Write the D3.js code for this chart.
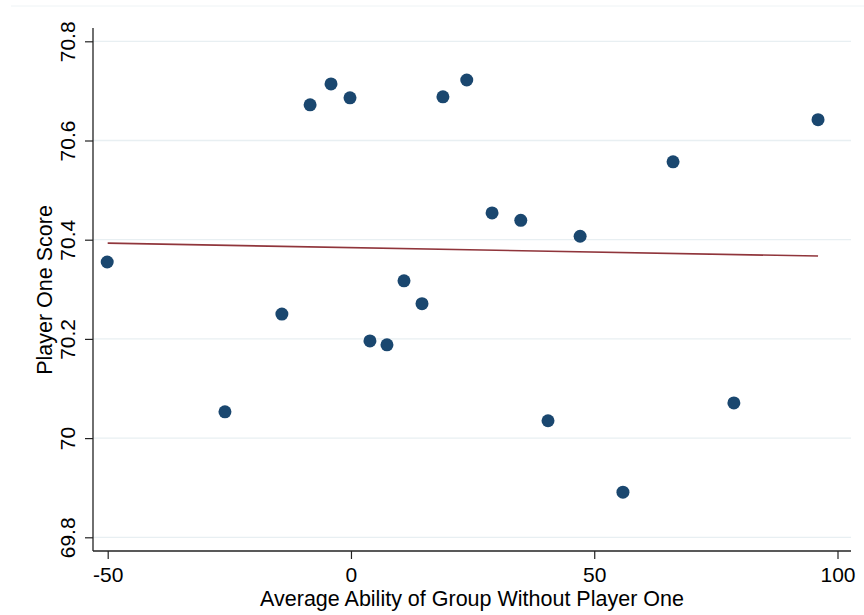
<!DOCTYPE html>
<html>
<head>
<meta charset="utf-8">
<script src="https://cdn.jsdelivr.net/npm/d3@7"></script>
<style>
  body { margin: 0; background: #fff; }
  svg { display: block; font-family: "Liberation Sans", Arial, Helvetica, sans-serif; }
</style>
</head>
<body>
<svg id="chart" width="864" height="615"></svg>
<script>
// values
var ability = [-50.1, -25.9, -14.2, -8.4, -4.1, -0.2, 3.9, 7.4, 10.9, 14.6,
               18.9, 23.8, 29.0, 34.9, 40.5, 47.1, 55.9, 66.2, 78.7, 96.0];
var score = [70.355, 70.053, 70.250, 70.672, 70.714, 70.686, 70.196, 70.188, 70.317, 70.271,
             70.688, 70.722, 70.454, 70.439, 70.035, 70.407, 69.891, 70.557, 70.071, 70.642];
var fitX = [-50, 96];
var fitY = [70.393, 70.367];
var xTicks = [-50, 0, 50, 100];
var yTicks = [69.8, 70, 70.2, 70.4, 70.6, 70.8];

var svg = d3.select("#chart");

var x = d3.scaleLinear().domain([-50, 100]).range([107.7, 837.5]);
var y = d3.scaleLinear().domain([69.8, 70.8]).range([537.3, 41.3]);

var plotLeft = 93, plotRight = 851, plotBottom = 551, plotTop = 28;

// plain number labels with an ASCII hyphen for negatives
var plain = function(d) { return String(+d.toFixed(1)); };

// faint frame line at the top
svg.append("line")
  .attr("x1", 11).attr("x2", 864).attr("y1", 6).attr("y2", 6)
  .style("stroke", "#eef3f5").style("stroke-width", 1);

// gridlines
svg.append("g").selectAll("line").data(yTicks).enter().append("line")
  .attr("x1", plotLeft).attr("x2", plotRight)
  .attr("y1", function(d) { return y(d); })
  .attr("y2", function(d) { return y(d); })
  .style("stroke", "#e8eff2").style("stroke-width", 1.3);

// y axis
var yAxis = d3.axisLeft(y).tickValues(yTicks).tickSize(8).tickFormat(plain);
var gy = svg.append("g").attr("transform", "translate(" + plotLeft + ",0)").call(yAxis);
gy.select(".domain").remove();
gy.selectAll(".tick line").style("stroke", "#222").style("stroke-width", 1.2);
gy.selectAll(".tick text")
  .attr("x", null).attr("dy", null)
  .attr("transform", "translate(-18,0) rotate(-90)")
  .attr("text-anchor", "middle")
  .style("font-size", "21px").style("fill", "#000");
svg.append("line")
  .attr("x1", plotLeft).attr("x2", plotLeft).attr("y1", plotTop).attr("y2", plotBottom)
  .style("stroke", "#222").style("stroke-width", 1.3);

// x axis
var xAxis = d3.axisBottom(x).tickValues(xTicks).tickSize(8).tickFormat(plain);
var gx = svg.append("g").attr("transform", "translate(0," + plotBottom + ")").call(xAxis);
gx.select(".domain").remove();
gx.selectAll(".tick line").style("stroke", "#222").style("stroke-width", 1.2);
gx.selectAll(".tick text")
  .attr("y", 31).attr("dy", null)
  .style("font-size", "21px").style("fill", "#000");
svg.append("line")
  .attr("x1", plotLeft).attr("x2", plotRight).attr("y1", plotBottom).attr("y2", plotBottom)
  .style("stroke", "#222").style("stroke-width", 1.3);

// fitted line
var fitLine = d3.line()
  .x(function(d, i) { return x(fitX[i]); })
  .y(function(d) { return y(d); });
svg.append("path")
  .datum(fitY)
  .attr("d", fitLine)
  .style("fill", "none").style("stroke", "#90353b").style("stroke-width", 1.6);

// points
svg.append("g").selectAll("circle").data(score).enter().append("circle")
  .attr("cx", function(d, i) { return x(ability[i]); })
  .attr("cy", function(d) { return y(d); })
  .attr("r", 6.5)
  .style("fill", "#1a476f");

// axis titles
svg.append("text")
  .attr("x", 472).attr("y", 606)
  .attr("text-anchor", "middle")
  .style("font-size", "21.5px")
  .text("Average Ability of Group Without Player One");

svg.append("text")
  .attr("transform", "translate(52,290) rotate(-90)")
  .attr("text-anchor", "middle")
  .style("font-size", "21.5px")
  .text("Player One Score");
</script>
</body>
</html>
